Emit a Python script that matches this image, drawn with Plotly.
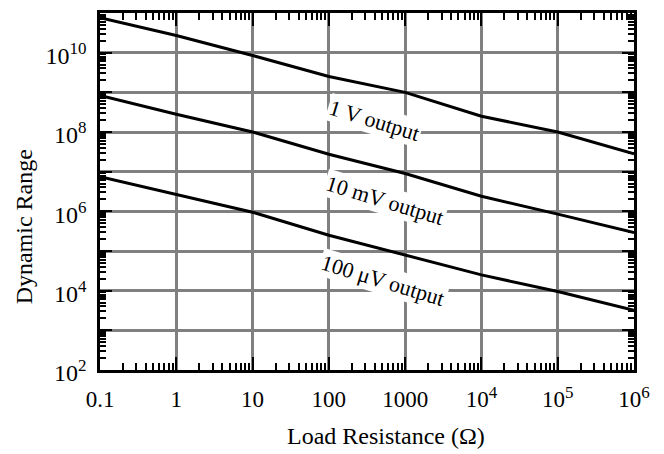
import plotly.graph_objects as go

# Data
load_resistance = [0.1, 1, 10, 100, 1000, 1e4, 1e5, 1e6]
dr_1V = [7.6e10, 2.7e10, 8.5e9, 2.5e9, 1.0e9, 2.5e8, 1.0e8, 2.8e7]
dr_10mV = [8.3e8, 2.8e8, 1.0e8, 2.75e7, 9.0e6, 2.4e6, 8.5e5, 2.9e5]
dr_100uV = [7.5e6, 2.7e6, 9.5e5, 2.5e5, 8.0e4, 2.5e4, 9.5e3, 3.2e3]

SUP = "<sup><span style='font-size:17px'>%s</span></sup>"
x_tickvals = [0.1, 1, 10, 100, 1000, 1e4, 1e5, 1e6]
x_ticktext = ["0.1", "1", "10", "100", "1000", "10" + SUP % "4", "10" + SUP % "5", "10" + SUP % "6"]
y_decades = list(range(2, 12))
y_tickvals = [10 ** d for d in y_decades]
y_ticktext = [("10" + SUP % d) if d % 2 == 0 and d <= 10 else "" for d in y_decades]

labels = ["1 V output", "10 mV output", "100 \u03bcV output"]
label_x = [2.60, 2.74, 2.71]   # log10 positions
label_y = [8.30, 6.28, 4.25]

x_minor = [k * 10 ** d for d in range(-1, 6) for k in range(2, 10)]
y_minor = [k * 10 ** d for d in range(2, 11) for k in range(2, 10)]

FONT = "Liberation Serif, Times New Roman, serif"

fig = go.Figure()
for ys in (dr_1V, dr_10mV, dr_100uV):
    fig.add_trace(go.Scatter(x=load_resistance, y=ys, mode="lines",
                             line=dict(color="black", width=3), showlegend=False,
                             hoverinfo="skip"))

for txt, lx, ly in zip(labels, label_x, label_y):
    fig.add_annotation(x=lx, y=ly, xref="x", yref="y", text=txt, showarrow=False,
                       textangle=17, bgcolor="white",
                       font=dict(family=FONT, size=22, color="black"))

# axis titles as annotations (positioned as in reference)
fig.add_annotation(x=0.5356, y=-0.186, xref="paper", yref="paper",
                   text="Load Resistance (\u03a9)", showarrow=False,
                   xanchor="center", yanchor="middle",
                   font=dict(family=FONT, size=24, color="black"))
fig.add_annotation(x=-0.142, y=0.40, xref="paper", yref="paper",
                   text="Dynamic Range", showarrow=False, textangle=-90,
                   xanchor="center", yanchor="middle",
                   font=dict(family=FONT, size=24, color="black"))

axis_common = dict(
    showline=True, linecolor="black", linewidth=2.5, mirror="allticks",
    ticks="inside", tickcolor="black", tickwidth=2,
    showgrid=True, gridcolor="#808080", gridwidth=3,
    zeroline=False, tickmode="array",
)

fig.update_xaxes(type="log", range=[-1, 6], tickvals=x_tickvals, ticktext=x_ticktext,
                 ticklen=13, ticklabelstandoff=7,
                 tickfont=dict(family=FONT, size=23, color="black"),
                 minor=dict(tickmode="array", tickvals=x_minor, ticks="inside",
                            ticklen=7, tickwidth=2, tickcolor="black", showgrid=False),
                 **axis_common)
fig.update_yaxes(type="log", range=[2, 11], tickvals=y_tickvals, ticktext=y_ticktext,
                 ticklen=12, ticklabelstandoff=6, ticklabelshift=3,
                 tickfont=dict(family=FONT, size=24, color="black"),
                 minor=dict(tickmode="array", tickvals=y_minor, ticks="inside",
                            ticklen=6, tickwidth=2, tickcolor="black", showgrid=False),
                 **axis_common)

fig.update_layout(width=664, height=454, margin=dict(l=100, r=30, t=10, b=84),
                  plot_bgcolor="white", paper_bgcolor="white",
                  font=dict(family=FONT, color="black"))

fig.write_html("out.html")
